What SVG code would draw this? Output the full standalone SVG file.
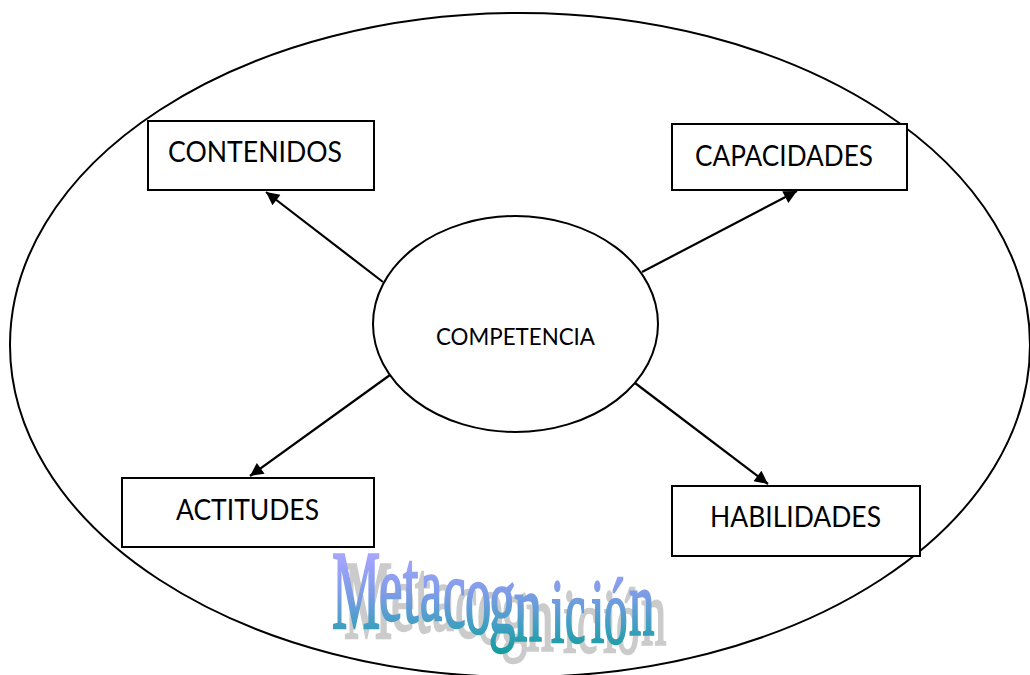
<svg xmlns="http://www.w3.org/2000/svg" xmlns:xlink="http://www.w3.org/1999/xlink" width="1030" height="675" viewBox="0 0 1030 675">
  <style>
    .box { fill: #ffffff; stroke: #000000; stroke-width: 2; }
    .ell { fill: #ffffff; stroke: #000000; stroke-width: 2; }
    .lbl { font-family: Lato, "Liberation Sans", sans-serif; font-size: 28px; fill: #000000; }
    .lbl-s { font-family: Lato, "Liberation Sans", sans-serif; font-size: 23.5px; fill: #000000; }
    .conn { stroke: #000000; stroke-width: 2.2; fill: none; marker-end: url(#arr); }
    .wa text { font-family: "Liberation Serif", "Times New Roman", serif; }
  </style>
  <defs>
    <marker id="arr" viewBox="0 0 10 10" refX="10" refY="5" markerWidth="7" markerHeight="6" orient="auto" markerUnits="strokeWidth">
      <path d="M0,0 L10,5 L0,10 Z" fill="#000000"/>
    </marker>
    <linearGradient id="wag" gradientUnits="userSpaceOnUse" x1="0" y1="553" x2="0" y2="657">
      <stop offset="0" stop-color="#a8a6ff"/>
      <stop offset="0.4" stop-color="#7c9ce6"/>
      <stop offset="0.72" stop-color="#3c9fc0"/>
      <stop offset="1" stop-color="#0f9c96"/>
    </linearGradient>
    <g id="wa" class="wa">
      <text transform="translate(332,0) scale(0.48,1)" x="0" y="628" font-size="113">M</text>
      <text transform="translate(379,0) scale(0.55,1)" x="0" y="620" font-size="96">e</text>
      <text transform="translate(403,0) scale(0.53,1)" x="0" y="622" font-size="105">t</text>
      <text transform="translate(420,0) scale(0.52,1)" x="0" y="620" font-size="96">a</text>
      <text transform="translate(443,0) scale(0.51,1)" x="0" y="627" font-size="100">c</text>
      <text transform="translate(465,0) scale(0.50,1)" x="0" y="633" font-size="105">o</text>
      <text transform="translate(489,0) scale(0.55,1)" x="0" y="633" font-size="96">g</text>
      <text transform="translate(514,0) scale(0.57,1)" x="0" y="640" font-size="98">n</text>
      <text transform="translate(551,0) scale(0.52,1)" x="0" y="642" font-size="92">i</text>
      <text transform="translate(565,0) scale(0.50,1)" x="0" y="642" font-size="92">c</text>
      <text transform="translate(591,0) scale(0.52,1)" x="0" y="642" font-size="92">i</text>
      <text transform="translate(604,0) scale(0.50,1)" x="0" y="643" font-size="94">ó</text>
      <text transform="translate(629,0) scale(0.54,1)" x="0" y="635" font-size="94">n</text>
    </g>
  </defs>

  <g id="marco">
    <ellipse class="ell" cx="520" cy="345" rx="510" ry="332"/>
  </g>

  <g id="contenidos">
    <rect class="box" x="148" y="121" width="226" height="69"/>
    <text class="lbl" x="168" y="162" textLength="174" lengthAdjust="spacingAndGlyphs">CONTENIDOS</text>
  </g>
  <g id="capacidades">
    <rect class="box" x="672" y="124" width="235" height="66"/>
    <text class="lbl" x="695" y="166" textLength="178" lengthAdjust="spacingAndGlyphs">CAPACIDADES</text>
  </g>
  <g id="actitudes">
    <rect class="box" x="122" y="478" width="252" height="69"/>
    <text class="lbl" x="176" y="520" textLength="143" lengthAdjust="spacingAndGlyphs">ACTITUDES</text>
  </g>
  <g id="habilidades">
    <rect class="box" x="672" y="486" width="248" height="70"/>
    <text class="lbl" x="710" y="527" textLength="171" lengthAdjust="spacingAndGlyphs">HABILIDADES</text>
  </g>

  <g id="competencia">
    <ellipse class="ell" cx="515.5" cy="324" rx="142.5" ry="108"/>
    <text class="lbl-s" x="436" y="345" textLength="159" lengthAdjust="spacingAndGlyphs">COMPETENCIA</text>
  </g>

  <g id="conectores">
    <line class="conn" x1="383" y1="282" x2="266" y2="192"/>
    <line class="conn" x1="642" y1="272" x2="797" y2="191"/>
    <line class="conn" x1="390" y1="375" x2="250" y2="476"/>
    <line class="conn" x1="635" y1="383" x2="768" y2="484"/>
  </g>

  <g id="metacognicion">
    <use xlink:href="#wa" href="#wa" fill="#cbcbcb" stroke="#cbcbcb" stroke-width="2.4" transform="translate(12,10)"/>
    <use xlink:href="#wa" href="#wa" fill="url(#wag)" stroke="url(#wag)" stroke-width="2.4"/>
  </g>
</svg>
